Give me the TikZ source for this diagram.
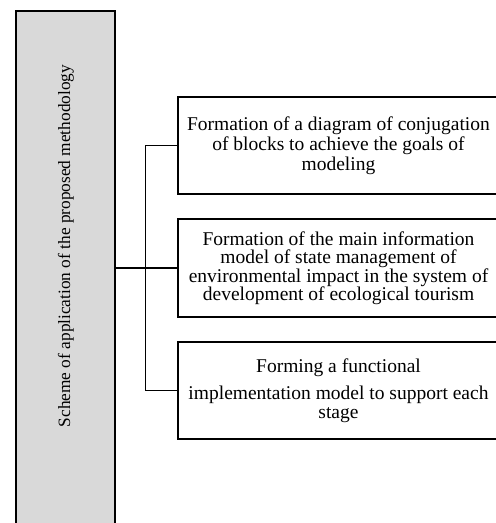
\documentclass[tikz,border=0pt]{standalone}
\usepackage{fontspec}
\setmainfont{Liberation Serif}
\definecolor{panel}{HTML}{D9D9D9}
\begin{document}
\begin{tikzpicture}[x=1pt, y=-1pt,
  frame/.style={draw=black, line width=1.5pt, inner sep=0pt},
  stagebox/.style={frame, fill=white, minimum width=321pt, minimum height=97pt, align=center},
  link/.style={draw=black, line width=1.4pt},
]
% page area (everything beyond it is cut off)
\clip (0,0) rectangle (496,523);

% tall grey panel on the left
\node[frame, fill=panel, minimum width=99pt, minimum height=529pt] (scheme) at (65.5,275.5) {};
\node[rotate=90, font=\fontsize{17.3}{20}\selectfont] (schemetext) at (66,246)
  {Scheme of application of the proposed methodology};

% the three stages
\node[stagebox, font=\fontsize{19.5}{20}\selectfont] (b1) at (338.5,145.5)
  {Formation of a diagram of conjugation\\of blocks to achieve the goals of\\modeling};
\node[stagebox, minimum height=98pt, font=\fontsize{19.5}{18.5}\selectfont] (b2) at (338.5,268)
  {Formation of the main information\\model of state management of\\environmental impact in the system of\\development of ecological tourism};
\node[stagebox, font=\fontsize{19.5}{19}\selectfont] (b3) at (338.5,390.5)
  {Forming a functional\\[8pt]implementation model to support each\\stage};

% connectors
\draw[link] (scheme.east |- b2.west) -- (b2.west);
\draw[link] (b1.west) -- ++(-32,0) |- (b3.west);
\end{tikzpicture}
\end{document}
